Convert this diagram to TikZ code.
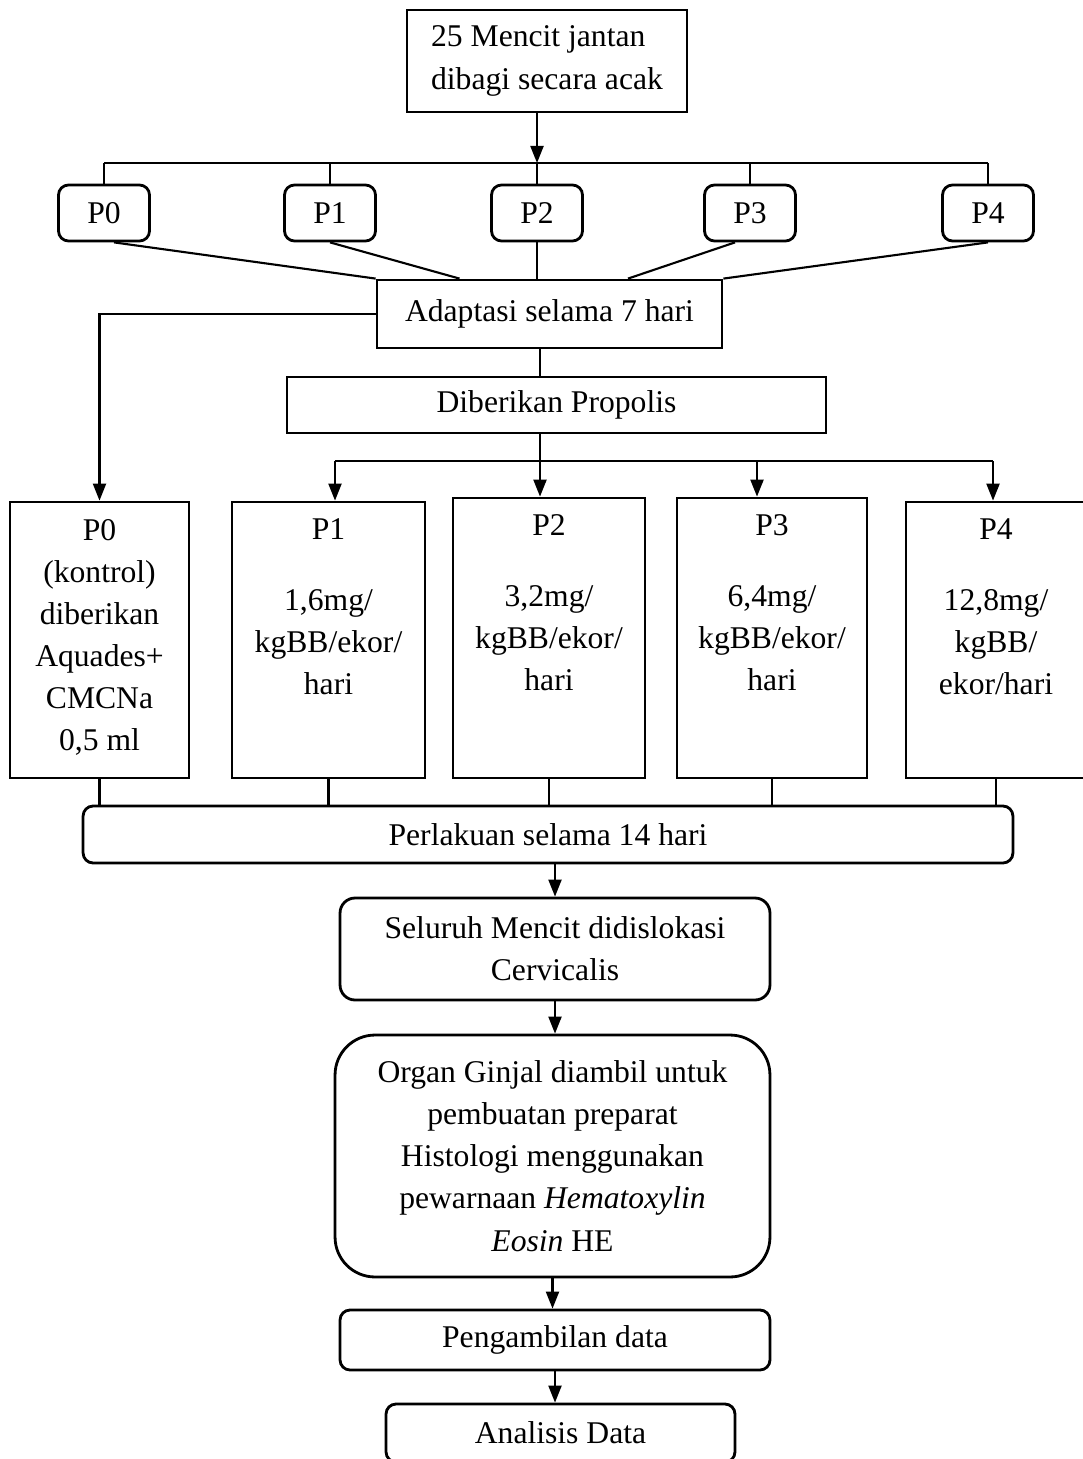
\documentclass[tikz,border=0pt]{standalone}
\usepackage{fontspec}
\setmainfont{Liberation Serif}
\usetikzlibrary{arrows.meta}

\begin{document}
\begin{tikzpicture}[
	x=0.02cm, y=-0.02cm,
	% Define the style for the nodes
	every node/.style={font=\fontsize{18}{24}\selectfont, align=center, inner sep=0pt},
	box/.style={draw, line width=1.6pt},
	rbox/.style={draw, line width=1.6pt, rounded corners=0.2cm},
	arr/.style={line width=1.2pt, -{Triangle[length=0.34cm, width=0.26cm]}},
	ln/.style={line width=1.2pt}
	]
	\useasboundingbox (0,0) rectangle (1082,1459);

	\node (top) at (547, 61) [box, minimum width=5.6cm, minimum height=2.04cm, align=left] {25 Mencit jantan\\dibagi secara acak};

	% groups
	\node (s0) at (104, 213) [rbox, minimum width=1.82cm, minimum height=1.12cm] {P0};
	\node (s1) at (330, 213) [rbox, minimum width=1.82cm, minimum height=1.12cm] {P1};
	\node (s2) at (537, 213) [rbox, minimum width=1.82cm, minimum height=1.12cm] {P2};
	\node (s3) at (750, 213) [rbox, minimum width=1.82cm, minimum height=1.12cm] {P3};
	\node (s4) at (988, 213) [rbox, minimum width=1.82cm, minimum height=1.12cm] {P4};
	\coordinate (bar) at (537, 163);

	\draw[arr] (top.south -| s2.north) -- (bar);
	\draw[ln] (s0.north |- bar) -- (s4.north |- bar);
	\foreach \s in {s0,s1,s2,s3,s4}
		\draw[ln] (\s.north |- bar) -- (\s.north);

	\node (ad) at (549.5, 314) [box, minimum width=6.9cm, minimum height=1.36cm] {Adaptasi selama 7 hari};

	\draw[ln] ([xshift=0.2cm]s0.south) -- (ad.north west);
	\draw[ln] (s1.south) -- ([xshift=-1.8cm]ad.north);
	\draw[ln] (s2.south) -- (s2.south |- ad.north);
	\draw[ln] ([xshift=-0.3cm]s3.south) -- ([xshift=1.57cm]ad.north);
	\draw[ln] (s4.south) -- (ad.north east);

	\node (pr) at (556.5, 405) [box, minimum width=10.78cm, minimum height=1.12cm] {Diberikan Propolis};
	\coordinate (fork) at (540, 461);

	% treatment boxes
	\node (b0) at (99.5, 640) [box, minimum width=3.58cm, minimum height=5.52cm] {};
	\node (b1) at (328.5, 640) [box, minimum width=3.86cm, minimum height=5.52cm] {};
	\node (b2) at (549, 638) [box, minimum width=3.84cm, minimum height=5.6cm] {};
	\node (b3) at (772, 638) [box, minimum width=3.8cm, minimum height=5.6cm] {};
	\node (b4) at (996, 640) [box, minimum width=3.6cm, minimum height=5.52cm] {};

	\node (t0) [anchor=north] at ([yshift=-0.36cm]b0.north) {P0\\(kontrol)\\diberikan\\Aquades+\\CMCNa\\0,5 ml};
	\node (t1) [anchor=north] at ([yshift=-0.36cm]b1.north) {P1\\[16pt]1,6mg/\\kgBB/ekor/\\hari};
	\node (t2) [anchor=north] at ([yshift=-0.36cm]b2.north) {P2\\[16pt]3,2mg/\\kgBB/ekor/\\hari};
	\node (t3) [anchor=north] at ([yshift=-0.36cm]b3.north) {P3\\[16pt]6,4mg/\\kgBB/ekor/\\hari};
	\node (t4) [anchor=north] at ([yshift=-0.36cm]b4.north) {P4\\[16pt]12,8mg/\\kgBB/\\ekor/hari};

	\draw[arr] (ad.west) -| (b0.north);
	\draw[ln] (ad.south -| fork) -- (pr.north -| fork);
	\draw[arr] (pr.south -| fork) -- (b2.north -| fork);
	\draw[ln] ([xshift=0.13cm]b1.north |- fork) -- ([xshift=-0.06cm]b4.north |- fork);
	\foreach \b/\dx in {b1/0.13cm, b3/-0.3cm, b4/-0.06cm}
		\draw[arr] ([xshift=\dx]\b.north |- fork) -- ([xshift=\dx]\b.north);

	\node (pl) at (548, 834.5) [rbox, minimum width=18.6cm, minimum height=1.14cm] {Perlakuan selama 14 hari};
	\foreach \b in {b0,b1,b2,b3,b4}
		\draw[ln] (\b.south) -- (\b.south |- pl.north);

	\node (se) at (555, 949) [rbox, rounded corners=0.3cm, minimum width=8.6cm, minimum height=2.04cm] {Seluruh Mencit didislokasi\\Cervicalis};
	\node (og) at (552.5, 1156) [rbox, rounded corners=0.8cm, minimum width=8.7cm, minimum height=4.84cm] {Organ Ginjal diambil untuk\\pembuatan preparat\\Histologi menggunakan\\pewarnaan \textit{Hematoxylin}\\\textit{Eosin} HE};
	\node (pd) at (555, 1340) [rbox, minimum width=8.6cm, minimum height=1.2cm] {Pengambilan data};
	\node (an) at (560.5, 1433) [rbox, minimum width=6.98cm, minimum height=1.16cm] {Analisis Data};

	\draw[arr] (se.north |- pl.south) -- (se.north);
	\draw[arr] (se.south) -- (se.south |- og.north);
	\draw[arr] (og.south) -- (og.south |- pd.north);
	\draw[arr] (pd.south) -- (pd.south |- an.north);

\end{tikzpicture}
\end{document}
